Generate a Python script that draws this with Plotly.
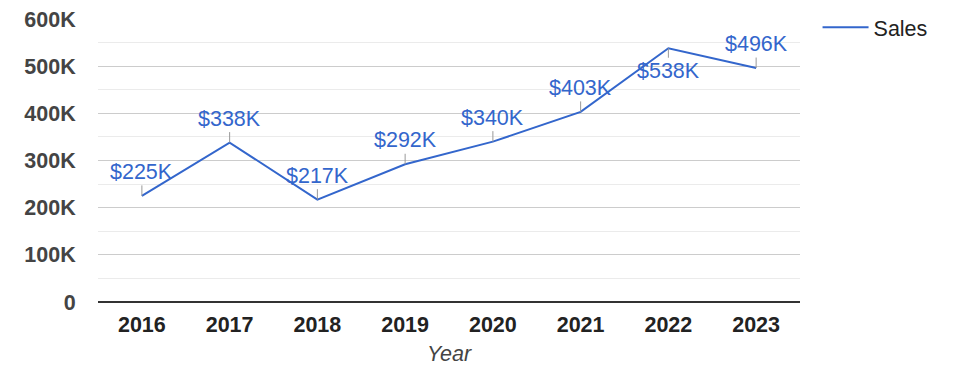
import plotly.graph_objects as go

years = ["2016", "2017", "2018", "2019", "2020", "2021", "2022", "2023"]
sales = [225000, 338000, 217000, 292000, 340000, 403000, 538000, 496000]
labels = ["$225K", "$338K", "$217K", "$292K", "$340K", "$403K", "$538K", "$496K"]
label_below = [False, False, False, False, False, False, True, False]
y_tickvals = [0, 100000, 200000, 300000, 400000, 500000, 600000]
y_ticktext = ["0", "100K", "200K", "300K", "400K", "500K", "600K"]

blue = "#3366CC"
FONT = "Liberation Sans, Arial"
FS = 21.5
fig = go.Figure()
fig.add_trace(go.Scatter(x=years, y=sales, mode="lines", name="Sales",
                         line=dict(color=blue, width=2), hoverinfo="skip"))

for i, (y, t, below) in enumerate(zip(sales, labels, label_below)):
    fig.add_annotation(x=i, y=y, xref="x", yref="y", text=t, showarrow=True, arrowhead=0,
                       arrowwidth=1, arrowcolor="#999999", ax=0,
                       ay=23 if below else -24,
                       font=dict(family=FONT, size=FS, color=blue))

fig.update_layout(
    width=975, height=378,
    margin=dict(l=98, r=175, t=19, b=76, autoexpand=False),
    paper_bgcolor="white", plot_bgcolor="white",
    font=dict(family=FONT, color="#222222"),
    showlegend=True,
    legend=dict(x=1.025, y=1.043, xanchor="left", yanchor="top", itemwidth=46,
                font=dict(size=FS, color="#222222"), bgcolor="rgba(0,0,0,0)"),
    xaxis=dict(type="category", range=[-0.5, 7.5], showgrid=False, automargin=False,
               ticks="outside", ticklen=3, tickcolor="white",
               tickfont=dict(size=FS, color="#222222", weight="bold"),
               title=dict(text="<i>Year</i>", font=dict(size=FS, color="#444444"), standoff=10),
               showline=False, zeroline=False),
    yaxis=dict(range=[0, 600000], tickvals=y_tickvals, ticktext=y_ticktext, automargin=False,
               showgrid=True, gridcolor="#cccccc", gridwidth=1,
               minor=dict(dtick=50000, showgrid=True, gridcolor="#ebebeb", gridwidth=1, tick0=0),
               zeroline=True, zerolinecolor="#333333", zerolinewidth=1.5,
               ticks="outside", ticklen=17, tickcolor="white",
               tickfont=dict(size=FS, color="#444444", weight="bold")),
)

fig.write_html("out.html", config={"displayModeBar": False},
               post_script="document.body.style.margin='0';document.body.style.padding='0';")
